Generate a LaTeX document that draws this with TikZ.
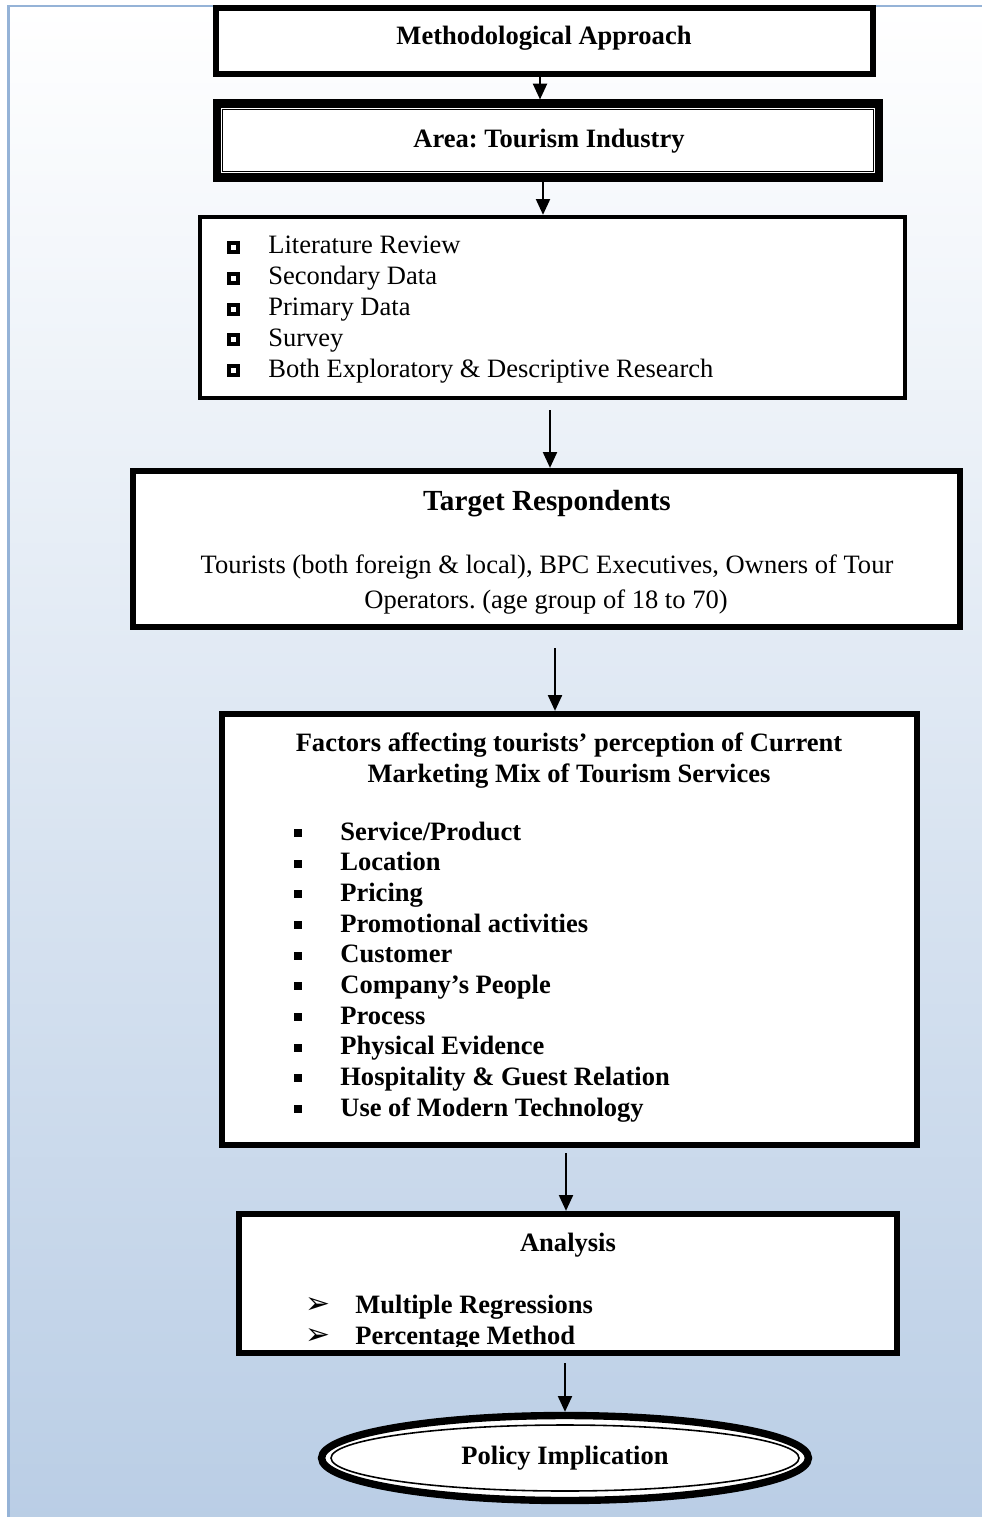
\documentclass[tikz,border=0pt]{standalone}
\usepackage{fontspec}
\setmainfont{Liberation Serif}
\newfontfamily\dejavu{DejaVu Sans}
\usetikzlibrary{arrows.meta,shapes.geometric}
\definecolor{frameblue}{HTML}{95B3D7}
\definecolor{fillblue}{HTML}{B9CDE5}
\tikzset{
  box/.style={draw,fill=white,line width=3.6pt,inner sep=0pt},
  arr/.style={line width=1.1pt,-{Triangle[length=9pt,width=8pt]}},
  txt/.style={inner sep=0pt,font=\fontsize{15.1}{17.4}\selectfont},
  btxt/.style={inner sep=0pt,font=\fontsize{15.1}{17.4}\selectfont\bfseries},
}
\frenchspacing
\begin{document}
\begin{tikzpicture}[x=0.02cm,y=-0.02cm]
  \useasboundingbox (0,0) rectangle (981,1517);
  \draw[frameblue,line width=1.7pt,top color=white,bottom color=fillblue] (8.5,6) rectangle (1000,1540);

  \node[box,minimum width=13.14cm,minimum height=1.32cm] (meth) at (544.5,41) {};
  \node[btxt,anchor=base] (methtxt) at (544,45) {Methodological Approach};

  \node[box,line width=4.6pt,minimum width=13.26cm,minimum height=1.48cm] (area) at (548,140.5) {};
  \draw[line width=1pt] ([shift={(10,10)}]area.north west) rectangle ([shift={(-10,-10)}]area.south east);
  \node[btxt,anchor=base] (areatxt) at (549,148) {Area: Tourism Industry};

  \node[box,line width=2.5pt,minimum width=14.1cm,minimum height=3.62cm] (method) at (552.5,307.5) {};
  \foreach \s [count=\i] in {Literature Review,Secondary Data,Primary Data,Survey,Both Exploratory \& Descriptive Research}{
    \pgfmathsetmacro\yy{254+(\i-1)*30.75}
    \fill (227,\yy-13) rectangle (240,\yy+0);
    \fill[white] (231,\yy-9) rectangle (236,\yy-4);
    \node[txt,anchor=base west] (lit\i) at (268,\yy) {\s};
  }

  \node[box,minimum width=16.54cm,minimum height=3.12cm] (target) at (546.5,549) {};
  \node[btxt,font=\fontsize{16.6}{19}\selectfont\bfseries,anchor=base] (targettxt) at (547,510) {Target Respondents};
  \node[txt,anchor=base] (resp1) at (547,573) {Tourists (both foreign \& local), BPC Executives, Owners of Tour};
  \node[txt,anchor=base] (resp2) at (546,608) {Operators. (age group of 18 to 70)};

  \node[box,minimum width=13.9cm,minimum height=8.62cm] (factors) at (569.5,929.5) {};
  \node[btxt,anchor=base] (fact1) at (569,751) {Factors affecting tourists’ perception of Current};
  \node[btxt,anchor=base] (fact2) at (569,782) {Marketing Mix of Tourism Services};
  \foreach \s [count=\i] in {Service/Product,Location,Pricing,Promotional activities,Customer,Company’s People,Process,Physical Evidence,Hospitality \& Guest Relation,Use of Modern Technology}{
    \pgfmathsetmacro\yy{840+(\i-1)*30.67}
    \fill (294,\yy-11) rectangle (302,\yy-3);
    \node[btxt,anchor=base west] (fac\i) at (340,\yy) {\s};
  }

  \node[box,minimum width=13.16cm,minimum height=2.78cm] (analysis) at (568,1283.5) {};
  \node[btxt,anchor=base] (anatxt) at (568,1251) {Analysis};
  \begin{scope}
    \clip (239,1214) rectangle (897,1346);
    \foreach \s [count=\i] in {Multiple Regressions,Percentage Method}{
      \pgfmathsetmacro\yy{1313+(\i-1)*31}
      \node[inner sep=0pt,font=\dejavu\fontsize{17}{17}\selectfont,anchor=base] (tip\i) at (318,\yy) {➢};
      \node[btxt,anchor=base west] (ana\i) at (355,\yy) {\s};
    }
  \end{scope}

  \node[ellipse,draw,fill=white,line width=4.2pt,minimum width=9.74cm,minimum height=1.7cm,btxt] (policy) at (565,1458) {Policy Implication};
  \draw[line width=0.9pt] (policy.center) ellipse [x radius=234, y radius=33];

  \coordinate (a1) at (540,0);
  \coordinate (a2) at (543,0);
  \coordinate (a3) at (550,0);
  \coordinate (a4) at (555,0);
  \coordinate (a5) at (566,0);
  \coordinate (a6) at (565,0);
  \draw[arr] (meth.south -| a1) -- (area.north -| a1);
  \draw[arr] (area.south -| a2) -- (method.north -| a2);
  \draw[arr,shorten <=0.2cm] (method.south -| a3) -- (target.north -| a3);
  \draw[arr,shorten <=0.36cm] (target.south -| a4) -- (factors.north -| a4);
  \draw[arr,shorten <=0.1cm] (factors.south -| a5) -- (analysis.north -| a5);
  \draw[arr,shorten <=0.14cm] (analysis.south -| a6) -- (policy.north -| a6);

\end{tikzpicture}
\end{document}
